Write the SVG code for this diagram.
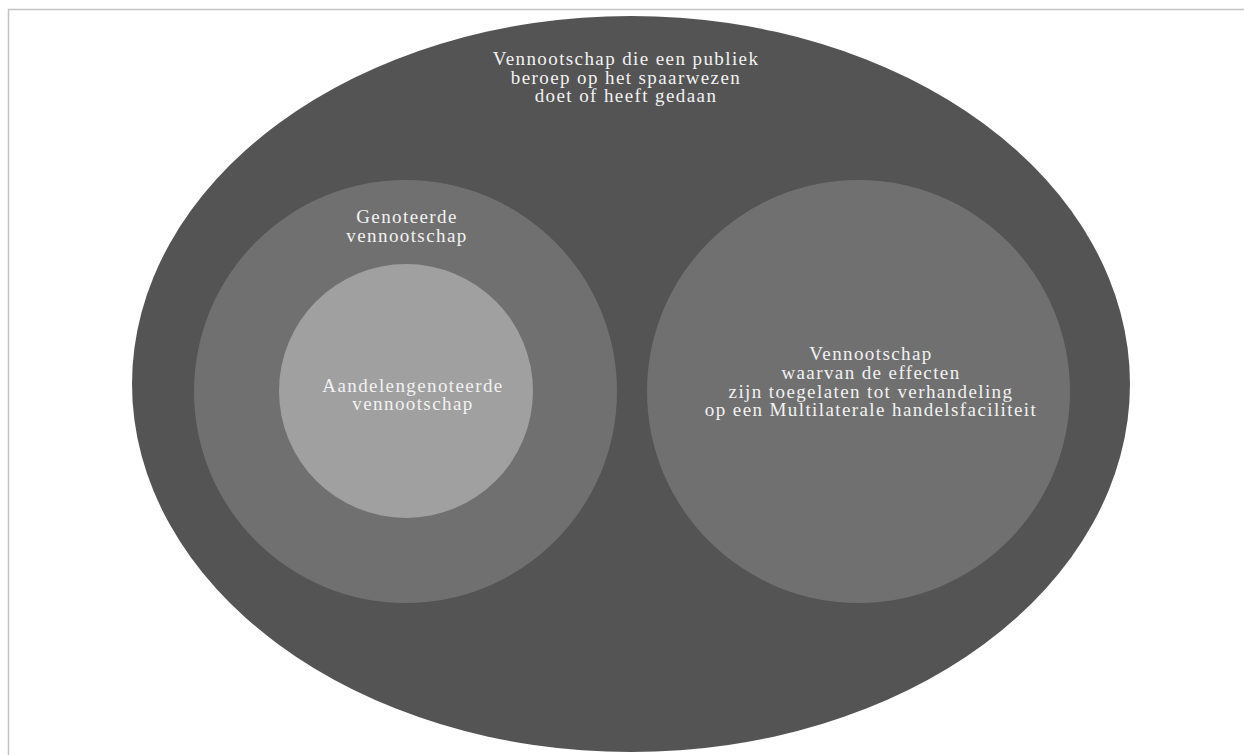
<svg xmlns="http://www.w3.org/2000/svg" width="1244" height="755" viewBox="0 0 1244 755">
<style>
.lbl{font-family:"Liberation Serif","Times New Roman",serif;font-size:19px;letter-spacing:1.4px;fill:#f2f2f2;text-anchor:middle}
</style>
<rect x="0" y="0" width="1244" height="755" fill="#ffffff"/>
<rect x="8.5" y="9.5" width="1250" height="760" fill="none" stroke="#c4c4c4" stroke-width="1.5"/>
<g id="node-publiek">
<ellipse cx="631" cy="384" rx="499" ry="368" fill="#545454"/>
<text class="lbl" x="626" y="65">Vennootschap die een publiek</text>
<text class="lbl" x="626" y="84">beroep op het spaarwezen</text>
<text class="lbl" x="626" y="102">doet of heeft gedaan</text>
</g>
<g id="node-genoteerde">
<circle cx="405.5" cy="391.5" r="211.5" fill="#707070"/>
<text class="lbl" x="407" y="223">Genoteerde</text>
<text class="lbl" x="407" y="242">vennootschap</text>
</g>
<g id="node-aandelen">
<circle cx="406" cy="391" r="127" fill="#a0a0a0"/>
<text class="lbl" x="413" y="392">Aandelengenoteerde</text>
<text class="lbl" x="413" y="410">vennootschap</text>
</g>
<g id="node-mtf">
<circle cx="858.5" cy="391.5" r="211.5" fill="#707070"/>
<text class="lbl" x="871" y="360">Vennootschap</text>
<text class="lbl" x="871" y="379">waarvan de effecten</text>
<text class="lbl" x="871" y="397.5">zijn toegelaten tot verhandeling</text>
<text class="lbl" x="871" y="416">op een Multilaterale handelsfaciliteit</text>
</g>
<g id="connectors"></g>
</svg>
